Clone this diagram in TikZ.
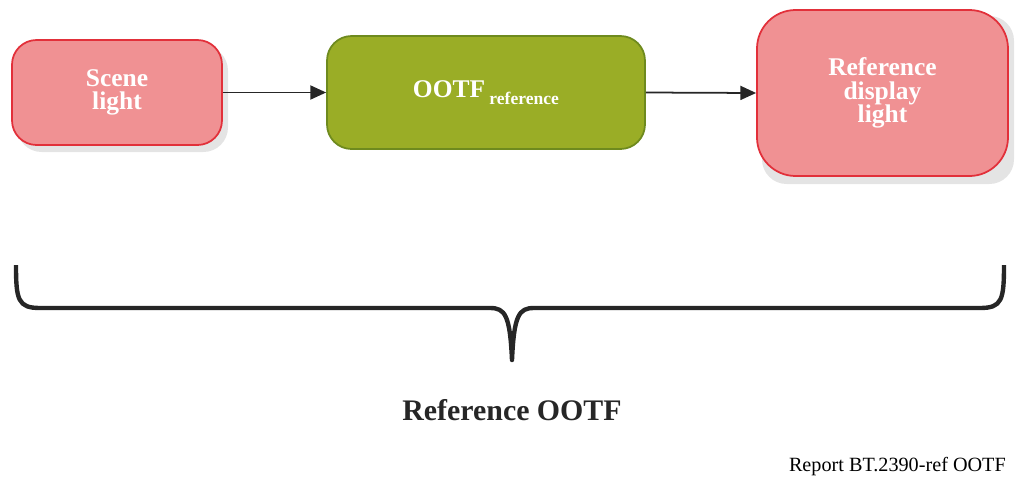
\documentclass[tikz,border=0pt]{standalone}
\usepackage{fontspec}
\setmainfont{Liberation Serif}
\usetikzlibrary{arrows.meta}
\definecolor{pinkf}{HTML}{F09193}
\definecolor{redb}{HTML}{E2303A}
\definecolor{olive}{HTML}{9AAD26}
\definecolor{oliveb}{HTML}{6E8A1E}
\definecolor{shad}{HTML}{E4E4E4}
\tikzset{
 box/.style={draw, line width=1pt, rounded corners=14pt, text=white, font=\fontsize{14.5}{16.5}\selectfont\bfseries, align=center},
 sh/.style={fill=shad, rounded corners=14pt},
 conn/.style={-{Triangle[length=9pt,width=8pt]}, line width=1pt, draw=black!85}
}
\begin{document}
\begin{tikzpicture}[x=0.02cm,y=-0.02cm]
\useasboundingbox (0,0) rectangle (1019,484);
\fill[sh] (17,46) rectangle (228,152);
\fill[sh] (762,16) rectangle (1014,184);
\node[box, fill=pinkf, draw=redb, minimum width=210*0.02cm, minimum height=105*0.02cm] (scene) at (117,92.5) {Scene\\[-3pt]light};
\node[box, fill=olive, draw=oliveb, minimum width=318*0.02cm, minimum height=113*0.02cm] (ootf) at (486,92.5) {OOTF\,{\fontsize{10}{12}\selectfont\raisebox{-4pt}{reference}}};
\node[box, fill=pinkf, draw=redb, rounded corners=22pt, minimum width=251*0.02cm, minimum height=166*0.02cm] (disp) at (882.5,93) {Reference\\[-3pt]display\\[-3pt]light};
\draw[conn] (scene.east) -- (ootf.west);
\draw[conn] (ootf.east) -- (disp.west);
\draw[line width=2.5pt, draw=black!85, line join=round] (16,265) .. controls (16,300) and (18,308) .. (40,308) -- (490,308) .. controls (505,308) and (510,315) .. (512,360) .. controls (514,315) and (519,308) .. (534,308) -- (980,308) .. controls (1002,308) and (1004,300) .. (1004,265);
\node[font=\fontsize{17}{19}\selectfont\bfseries, text=black!85] (lbl) at (512,410) {Reference OOTF};
\node[font=\fontsize{11.5}{13}\selectfont, anchor=east] (rep) at (1012,467) {Report BT.2390-ref OOTF};
\end{tikzpicture}
\end{document}
